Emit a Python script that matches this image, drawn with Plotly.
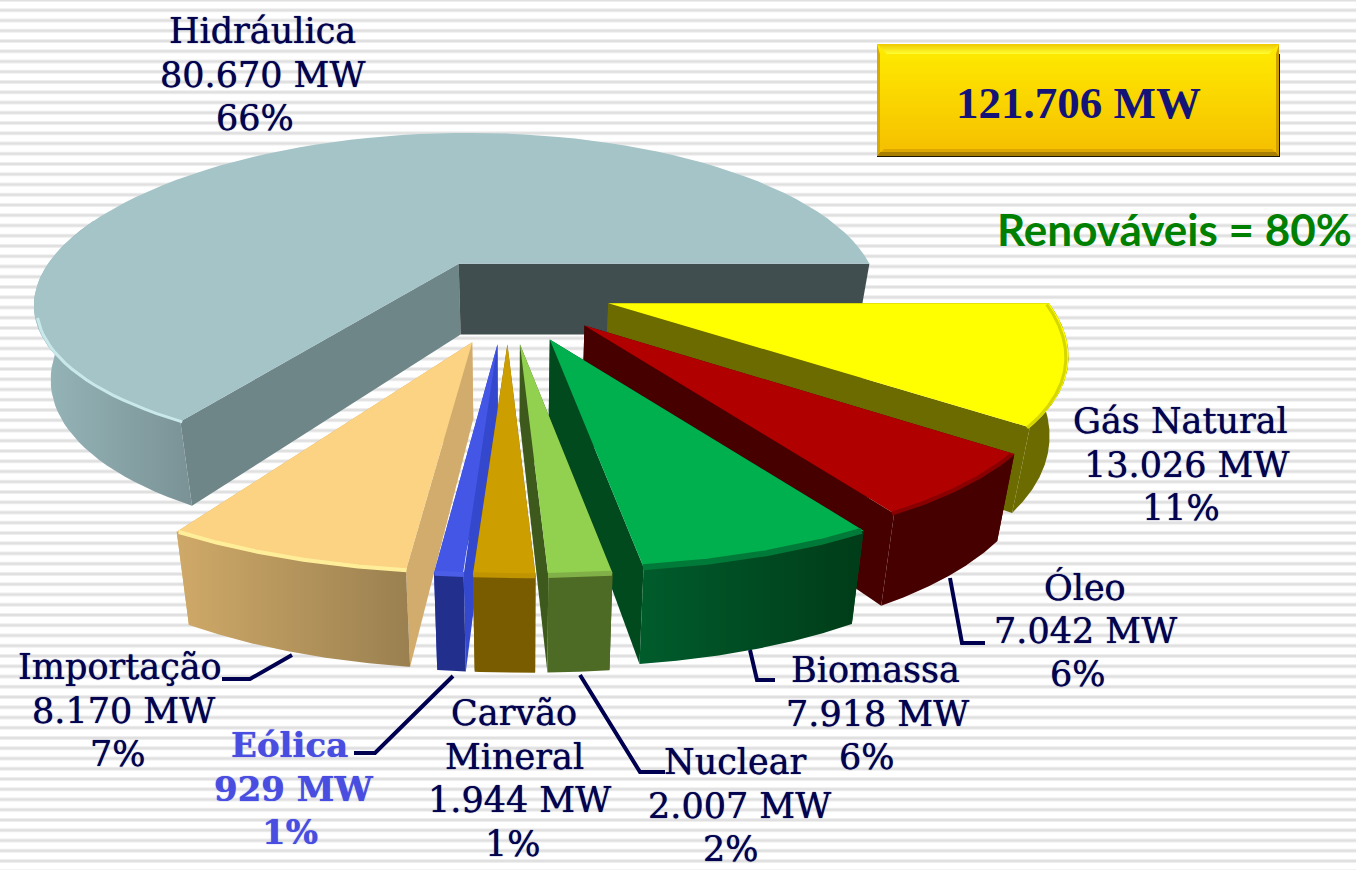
import math
import plotly.graph_objects as go

# ---- data ----
names = ["Hidráulica", "Gás Natural", "Óleo", "Biomassa", "Nuclear", "Carvão Mineral", "Eólica", "Importação"]
values_mw = [80670, 13026, 7042, 7918, 2007, 1944, 929, 8170]
total_mw = "121.706 MW"
renew_text = "Renováveis = 80%"
label_lines = [
    ["Hidráulica", "80.670 MW", "66%"],
    ["Gás Natural", "13.026 MW", "11%"],
    ["Óleo", "7.042 MW", "6%"],
    ["Biomassa", "7.918 MW", "6%"],
    ["Nuclear", "2.007 MW", "2%"],
    ["Carvão", "Mineral", "1.944 MW", "1%"],
    ["Eólica", "929 MW", "1%"],
    ["Importação", "8.170 MW", "7%"],
]

# ---- geometry of the 3-D projection ----
W, H = 1356, 870
OX, OY = 525, 303
A, B, CX, CY = 445, 170, 0.24, 0.196
DEPTH = 74
NARROW = 0.035
pull = [0.27, 0.20, 0.20, 0.20, 0.20, 0.20, 0.20, 0.20]
scale_x = [0.975, 0.975, 0.98, 0.985, 1, 1, 1, 1]
nudge_x = [-12, 0, 0, 2, 0, 0, 0, 0]
nudge_y = [-1, -11, -4, 3, 6, 6, 6, 6]
tip_x = [0, 0, 0, -7, -12, -15, -18, -22]

top_col = ["#a5c4c7", "#ffff00", "#b00000", "#00b04f", "#92d050", "#cc9e00", "#4456e6", "#fcd283"]
edge_col = ["#c8e8ea", "#d6d600", "#8a0000", "#007a38", "#82b048", "#c09400", "#4c5ee8", "#ffee99"]
edge_w = [3, 3, 4, 6, 5, 5, 5, 4]
rim_l = ["#97b7bb", "#6b6b00", "#470000", "#005c2c", "#4e6b26", "#7a5c00", "#232f8c", "#cfa968"]
rim_r = ["#7a9295", "#6b6b00", "#470000", "#003c18", "#4e6b26", "#7a5c00", "#232f8c", "#9a8050"]
face_start = ["#6f8689", "#6b6b00", "#470000", "#004a1e", "#3d5a1c", "#7a5c00", "#3348cc", "#d2ac6c"]
face_end = ["#404e50", "#6b6b00", "#470000", "#004a1e", "#3d5a1c", "#7a5c00", "#3348cc", "#d2ac6c"]
draw_order = [0, 1, 2, 3, 7, 6, 4, 5]
# centre x of every text line, y of the first line
label_cx = [[262, 262, 255], [1180, 1186, 1181], [1085, 1085, 1078], [875, 877, 867],
            [735, 739, 731], [514, 514, 519, 513], [289, 293, 290], [120, 123, 118]]
label_y0 = [31, 421, 587, 670, 762, 713, 745, 667]
LINE_STEP = 43.7
leaders = [
    [(222, 679), (250, 679), (292, 655)],
    [(354, 753), (375, 753), (453, 676)],
    [(665, 772), (640, 772), (580, 675)],
    [(775, 680), (757, 680), (750, 650)],
    [(985, 643), (962, 643), (950, 578)],
]


def project(i, r, th, mid, z=0.0):
    p = pull[i]
    X = r * math.cos(th) + p * math.cos(mid)
    Y = -(r * math.sin(th) + p * math.sin(mid))
    kx = 1.0 / (1.0 - CX * Y)
    ky = 1.0 / (1.0 - CY * Y)
    sx = OX + nudge_x[i] + A * scale_x[i] * X * kx * (1 - NARROW * z) + tip_x[i] * (1 - r)
    sy = OY + nudge_y[i] + B * Y * ky + z * DEPTH * kx ** 0.8
    return sx, sy


def poly(fig, pts, color=None, grad=None):
    xs = [p[0] for p in pts] + [pts[0][0]]
    ys = [p[1] for p in pts] + [pts[0][1]]
    kw = dict(x=xs, y=ys, mode="lines", fill="toself", line=dict(width=0, color="rgba(0,0,0,0)"),
              hoverinfo="skip", showlegend=False)
    if grad:
        kw["fillgradient"] = dict(type=grad[0], colorscale=[[0, grad[1]], [1, grad[2]]])
    else:
        kw["fillcolor"] = color
    fig.add_trace(go.Scatter(**kw))


fig = go.Figure()

# sector angles, clockwise from the right edge of the largest slice
total = sum(values_mw)
sweep = [v / total * 2 * math.pi for v in values_mw]
angles = [(sweep[0], 0.0)]
cur = 0.0
for s in sweep[1:]:
    angles.append((cur, cur - s))
    cur -= s

for i in draw_order:
    a0, a1 = angles[i]
    mid = (a0 + a1) / 2
    tip = project(i, 0, 0, mid)
    tip_b = project(i, 0, 0, mid, 1)
    # cut faces
    for ang, col in ((a0, face_start[i]), (a1, face_end[i])):
        poly(fig, [tip, project(i, 1, ang, mid), project(i, 1, ang, mid, 1), tip_b], color=col)
    # outer rim
    lo, hi = min(a0, a1), max(a0, a1)
    front = [lo + (hi - lo) * j / 120 for j in range(121)]
    if i == 0:
        front = [t for t in front if math.pi * 0.9 < t]
    else:
        front = [t for t in front if math.sin(t) <= 0.12]
    upper = [project(i, 1, t, mid) for t in front]
    lower = [project(i, 1, t, mid, 1) for t in reversed(front)]
    poly(fig, upper + lower, grad=("horizontal", rim_l[i], rim_r[i]))
    # top surface
    n = 80
    poly(fig, [tip] + [project(i, 1, a0 + (a1 - a0) * j / n, mid) for j in range(n + 1)], color=top_col[i])
    # bright edge along the outer arc
    e = [project(i, 0.995, t, mid, 0.015) for t in front if i != 0 or t > math.pi * 1.1]
    fig.add_trace(go.Scatter(x=[p[0] for p in e], y=[p[1] for p in e], mode="lines",
                             line=dict(width=edge_w[i], color=edge_col[i]), hoverinfo="skip", showlegend=False))

# total box
bx0, bx1, by0, by1, bev = 877, 1279, 44, 157, 10
poly(fig, [(bx0, by0), (bx1 + 1, by0 + 10), (bx1 + 1, by1), (bx0, by1)], color="#1a1400")
poly(fig, [(bx0, by0), (bx1, by0), (bx1, by1 - 1), (bx0, by1 - 1)], grad=("vertical", "#f5be00", "#ffec00"))
poly(fig, [(bx0, by0), (bx1, by0), (bx1 - bev, by0 + bev), (bx0 + bev, by0 + bev)], grad=("vertical", "#ffff30", "#f0c800"))
poly(fig, [(bx0, by1 - 1), (bx1, by1 - 1), (bx1 - 7, by1 - 8), (bx0 + 7, by1 - 8)], color="#dca800")
poly(fig, [(bx0, by1 - 1), (bx1, by1 - 1), (bx1 - 3, by1 - 5), (bx0 + 3, by1 - 5)], color="#a87e00")
poly(fig, [(bx0, by0), (bx0 + 3, by0 + bev), (bx0 + 3, by1 - 5), (bx0, by1 - 1)], color="#d8aa00")
poly(fig, [(bx1, by0), (bx1 - 3, by0 + bev), (bx1 - 3, by1 - 5), (bx1, by1 - 1)], color="#d0a000")

# background stripes
stripes = " ".join(f"M0,{n * 10.25:.2f} H{W}" for n in range(86))
shapes = [
    dict(type="path", path=stripes, xref="x", yref="y", layer="below", line=dict(color="#eeeeee", width=4)),
    dict(type="path", path=stripes, xref="x", yref="y", layer="below", line=dict(color="#e0e0e0", width=2)),
]
for pts in leaders:
    path = "M" + " L".join(f"{x},{y}" for x, y in pts)
    shapes.append(dict(type="path", path=path, xref="x", yref="y", layer="above",
                       line=dict(color="#000050", width=4)))

ann = []
for i, lines in enumerate(label_lines):
    eolica = names[i] == "Eólica"
    col = "#4a4ee0" if eolica else "#03034f"
    for j, line in enumerate(lines):
        ann.append(dict(x=label_cx[i][j], y=label_y0[i] + j * LINE_STEP, xref="x", yref="y",
                        text=f"<b>{line}</b>" if eolica else line, showarrow=False,
                        font=dict(family="DejaVu Serif", size=34 if eolica else 35, color=col,
                                  shadow=f"0 0 1px {col}")))
ann.append(dict(x=1078, y=103, xref="x", yref="y", text=f"<b>{total_mw}</b>", showarrow=False,
                font=dict(family="Liberation Serif", size=45, color="#141478")))
ann.append(dict(x=1174, y=229, xref="x", yref="y", text=f"<b>{renew_text}</b>", showarrow=False,
                font=dict(family="Lato", size=44, color="#008000")))

fig.update_layout(
    width=W, height=H, autosize=False,
    margin=dict(l=0, r=0, t=0, b=0),
    paper_bgcolor="white", plot_bgcolor="white",
    xaxis=dict(range=[0, W], visible=False, fixedrange=True),
    yaxis=dict(range=[H, 0], visible=False, fixedrange=True),
    shapes=shapes, annotations=ann, showlegend=False,
)
fig.write_html("out.html", config={"displayModeBar": False},
               post_script="document.documentElement.style.overflow='hidden';document.body.style.margin='0';")
